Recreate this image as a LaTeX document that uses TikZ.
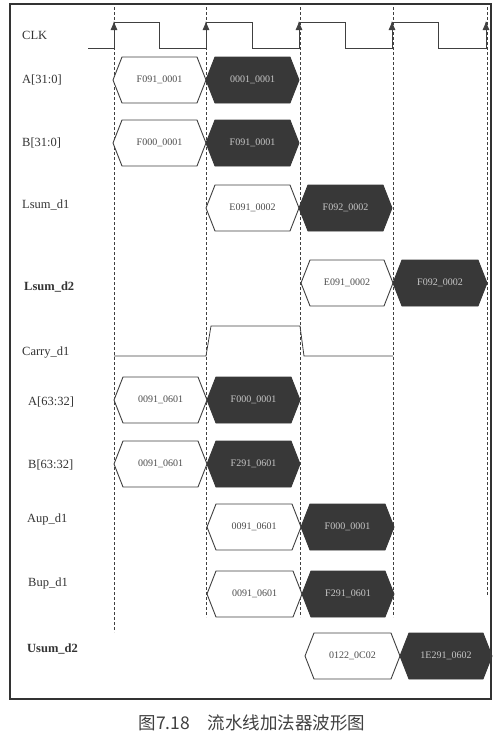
\documentclass[tikz,border=0pt]{standalone}
\usepackage{fontspec}
\setmainfont{Liberation Serif}
\newfontfamily\cjk{Noto Sans CJK SC}
\usepackage{tikz}
\usetikzlibrary{arrows.meta,calc,positioning}

\newcommand{\hexwave}[6]{%
\draw[#5] (#2,#4) -- (#2+9,#4-23) -- (#3-9,#4-23) -- (#3,#4) -- (#3-9,#4+23) -- (#2+9,#4+23) -- cycle;
\node[#5 text] (#1) at ({(#2+#3)/2},#4) {#6};
}

\begin{document}
\begin{tikzpicture}[x=1pt,y=-1pt,
  whitehex/.style={draw=black!75,fill=white,line width=0.9pt},
  darkhex/.style={draw=black!78,fill=black!78,line width=0.9pt},
  whitehex text/.style={text=black!70,font=\fontsize{10}{12}\selectfont},
  darkhex text/.style={text=black!22,font=\fontsize{10}{12}\selectfont},
  sig/.style={anchor=west,inner sep=0pt,text=black!80,font=\fontsize{12.5}{15}\selectfont},
  guide/.style={black!75,line width=0.6pt,dash pattern=on 3pt off 2pt},
  wave/.style={black!75,line width=0.8pt}]

\useasboundingbox (0,0) rectangle (502,737);

\coordinate(O1) at (10,4);
\node[below right=0cm of O1,draw,line width=1.6pt,draw=black!80,minimum width=481pt,minimum height=695pt,inner sep=0pt,outer sep=0pt](frame) {};

\foreach \x/\yb in {114/632,206/617,300/617,393/617,487/595}
  \draw[guide] (\x,7) -- (\x,\yb);

\node[sig] (lclk) at (22,35) {CLK};
\node[sig] (la31) at (22,80) {A[31:0]};
\node[sig] (lb31) at (22,143) {B[31:0]};
\node[sig] (llsum1) at (22,205) {Lsum\_d1};
\node[sig,font=\fontsize{12.5}{15}\selectfont\bfseries] (llsum2) at (24,287) {Lsum\_d2};
\node[sig] (lcarry) at (22,353) {Carry\_d1};
\node[sig] (la63) at (28,402) {A[63:32]};
\node[sig] (lb63) at (28,465) {B[63:32]};
\node[sig] (laup) at (27,519) {Aup\_d1};
\node[sig] (lbup) at (28,583) {Bup\_d1};
\node[sig,font=\fontsize{12.5}{15}\selectfont\bfseries] (lusum) at (27,649) {Usum\_d2};

\draw[wave] (88,48) -- (114,48) -- (114,22) -- (159,22) -- (159,48) -- (206,48) -- (206,22) -- (252,22) -- (252,48)
  -- (299,48) -- (299,22) -- (345,22) -- (345,48) -- (392,48) -- (392,22) -- (438,22) -- (438,48) -- (486,48) -- (486,22);
\foreach \x in {114,206,299,392,486}
  \draw[wave,-{Latex[length=9pt,width=7pt]}] (\x,40) -- (\x,21);

\hexwave{a31w}{113}{206}{80}{whitehex}{F091\_0001}
\hexwave{a31d}{206}{299}{80}{darkhex}{0001\_0001}
\hexwave{b31w}{113}{206}{143}{whitehex}{F000\_0001}
\hexwave{b31d}{206}{299}{143}{darkhex}{F091\_0001}
\hexwave{lsum1w}{206}{299}{208}{whitehex}{E091\_0002}
\hexwave{lsum1d}{299}{392}{208}{darkhex}{F092\_0002}
\hexwave{lsum2w}{301}{393}{283}{whitehex}{E091\_0002}
\hexwave{lsum2d}{393}{487}{283}{darkhex}{F092\_0002}

\draw[wave] (114,356) -- (206,356) -- (211,326) -- (300,326) -- (304,356) -- (393,356);

\hexwave{a63w}{114}{207}{400}{whitehex}{0091\_0601}
\hexwave{a63d}{207}{300}{400}{darkhex}{F000\_0001}
\hexwave{b63w}{114}{207}{464}{whitehex}{0091\_0601}
\hexwave{b63d}{207}{300}{464}{darkhex}{F291\_0601}
\hexwave{aupw}{207}{301}{527}{whitehex}{0091\_0601}
\hexwave{aupd}{301}{394}{527}{darkhex}{F000\_0001}
\hexwave{bupw}{207}{302}{594}{whitehex}{0091\_0601}
\hexwave{bupd}{302}{394}{594}{darkhex}{F291\_0601}
\hexwave{usumw}{305}{400}{656}{whitehex}{0122\_0C02}
\hexwave{usumd}{400}{492}{656}{darkhex}{1E291\_0602}

\node[text=black!75,font=\cjk\fontsize{17.5}{20}\selectfont] (caption) at (252,723) {图7.18\quad 流水线加法器波形图};
\end{tikzpicture}
\end{document}
